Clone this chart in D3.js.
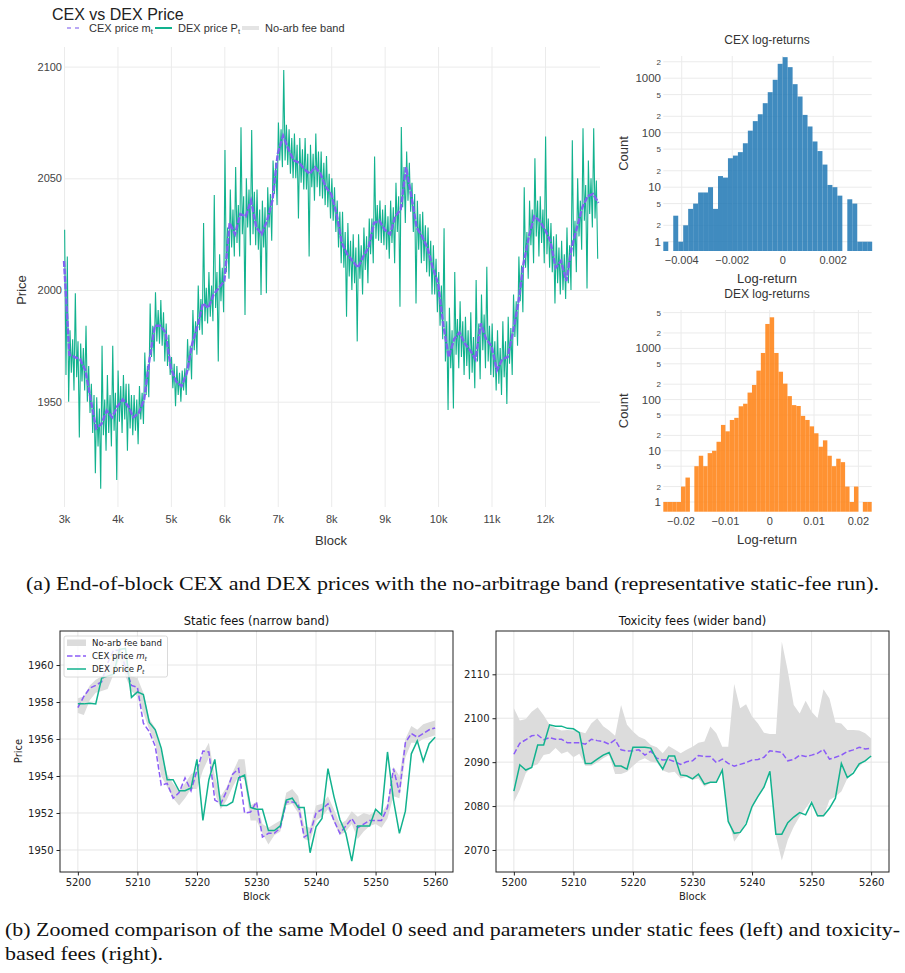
<!DOCTYPE html>
<html>
<head>
<meta charset="utf-8">
<script src="https://cdn.jsdelivr.net/npm/d3@7"></script>
<style>
  body { margin: 0; background: #fff; }
</style>
</head>
<body>
<script>
// ---------- data ----------

// (a) main chart: CEX price every 100 blocks from block 3000
var mainStart = 3000, mainStep = 100;
var mainCex = [2013,1971,1970,1969,1964,1951,1938,1940,1946,1943,
  1948,1951,1948,1943,1945,1951,1969,1984,1984,1981,
  1965,1959,1957,1963,1976,1984,1994,1992,1998,2001,
  2004,2030,2025,2034,2033,2040,2028,2025,2031,2040,
  2061,2069,2063,2058,2057,2054,2052,2055,2052,2046,
  2043,2034,2021,2016,2013,2010,2015,2019,2030,2031,
  2027,2025,2033,2036,2055,2042,2028,2024,2019,2010,
  2003,1984,1970,1978,1981,1976,1973,1969,1985,1978,
  1975,1964,1969,1970,1981,1994,2012,2024,2033,2031,
  2027,2022,2010,2013,2004,2019,2028,2037,2042,2043,2039];
// DEX price inside each 100-block window: outer spikes (high / low)
var dexHigh = [2027,1982,1998.5,1976,1984,1958,1952,1975,1962,1975,
  1964,1962,1958,1953,1957,1972,1994,1999,1995.5,1985,
  1970,1966,1964,1978,1991,2002,2030,2008,2042.5,2016,
  2062.7,2045,2055,2072.8,2050,2071.6,2045,2040,2046,2058,
  2075,2098.5,2072,2070,2068,2068,2065,2070,2062,2060,
  2050,2040,2035,2030,2025,2025,2028,2032,2059.7,2040,
  2038,2040,2048,2073,2062,2048,2040,2035,2028,2020,
  2008,2027.6,1992,2008,1995,1988,1990,2004.5,1998,2010.4,
  1985,1982,1986,1988,1998,2015,2046,2040,2059,2042,
  2068.7,2030,2025,2022,2028,2067,2050,2072.4,2058,2072.4];
var dexLow = [1950,1955,1934,1955,1945,1918,1911,1928,1930,1915,
  1936,1928,1935,1931,1940,1952,1968,1976,1968,1962,
  1948,1950,1953,1960,1971,1980,1985,1986,1968,1990,
  2005,2015,2015,1988.8,2020,2020,1997.8,1998.5,2022,2038,
  2055,2056,2050,2032,2045,2015,2040,2042,2038,2032,
  2026,2012,1988,2000,1977,1998,2003,2012,2022,2020,
  2014,2012,1992.5,2030,2035,1994,2012,2008,1998,1990,
  1978,1946.3,1947,1965,1962,1960,1956,1960,1965,1962,
  1955,1953,1949,1962,1975,1990,2005,2012,2015,2012,
  2010,1994,1998,1996,2000,2008,2018,2000.7,2028,2014];
// DEX price: edges of the dense core inside each 100-block window
var dexCoreHigh = [2015,1978,1977,1974,1966,1953,1947,1951,1953,1954,
  1957,1958,1953,1951,1954,1966,1984,1991,1990,1980,
  1967,1963,1965,1975,1986,1996,2001,2002,2008,2010,
  2028,2036,2038,2042,2045,2044,2036,2037,2043,2057,
  2072,2074,2068,2065,2063,2061,2061,2062,2057,2052,
  2046,2035,2026,2022,2019,2020,2024,2032,2038,2036,
  2033,2037,2042,2055,2057,2043,2034,2029,2022,2014,
  2002,1986,1982,1987,1986,1982,1979,1985,1989,1984,
  1977,1974,1977,1983,1995,2011,2026,2036,2040,2036,
  2032,2024,2019,2016,2020,2031,2040,2047,2050,2049];
var dexCoreLow = [1962,1963,1961,1959,1950,1936,1930,1935,1936,1937,
  1941,1942,1938,1937,1942,1953,1970,1977,1975,1966,
  1956,1953,1955,1964,1973,1982,1986,1988,1992,1995,
  2008,2019,2021,2025,2028,2025,2018,2019,2028,2043,
  2058,2058,2052,2050,2048,2045,2046,2046,2041,2037,
  2031,2019,2010,2006,2003,2005,2009,2016,2023,2021,
  2018,2021,2026,2037,2040,2026,2018,2013,2006,1998,
  1984,1968,1965,1971,1970,1966,1963,1968,1973,1968,
  1961,1958,1961,1967,1979,1995,2010,2020,2024,2021,
  2016,2008,2003,2000,2003,2015,2024,2031,2034,2032];
var mainXTicks = [3000,4000,5000,6000,7000,8000,9000,10000,11000,12000];
var mainYTicks = [1950,2000,2050,2100];

// log-return histograms
var cexBinStart = -0.00473, cexBinWidth = 0.000197;
var cexCounts = [1,0,3,1,2,4,5,8,8,10,4,16,15,34,38,44,64,109,163,218,
  348,554,935,1836,2433,1595,777,461,212,130,69,46,26,11,10,7,0,6,5,1,1,1];
var cexXTicks = [-0.004,-0.002,0,0.002];
var cexYTicks = [1,2,5,10,20,50,100,200,500,1000,2000];

var dexBinStart = -0.024, dexBinWidth = 0.001;
var dexCounts = [1,1,1,1,2,3,0,5,8,5,9,10,15,32,24,40,44,74,83,137,
  193,368,814,3000,4050,814,350,205,117,78,75,48,40,30,22,12,16,8,5,7,
  6,2,1,2,0,1,1];
var dexXTicks = [-0.02,-0.01,0,0.01,0.02];
var dexYTicks = [1,2,5,10,20,50,100,200,500,1000,2000,5000];

// (b) zoomed window, blocks 5200..5260
var zoomStart = 5200;
var staticCex = [1957.7,1958.3,1958.75,1958.9,1959.1,1960.1,1960.8,1960.8,1959.9,1958.9,
  1958.8,1956.85,1956.4,1955.6,1953.5,1953.6,1952.8,1953.1,1953.9,1953.2,
  1954.3,1955.35,1955.3,1952.7,1952.5,1953.2,1954.1,1954.4,1952.0,1952.05,
  1952.6,1950.7,1950.9,1950.9,1951.2,1952.6,1952.6,1952.5,1950.7,1950.9,
  1952.0,1952.2,1952.5,1951.6,1950.9,1951.3,1951.7,1951.2,1951.4,1951.6,
  1951.6,1951.6,1952.3,1954.4,1953.1,1955.8,1956.3,1956.1,1956.3,1956.5,1956.6];
var staticDex = [1957.9,1957.9,1957.93,1957.9,1959.3,1959.4,1959.5,1960.85,1960.9,1958.25,
  1958.55,1958.4,1956.9,1956.5,1955.5,1953.8,1953.8,1953.2,1953.2,1953.35,
  1954.9,1951.6,1953.8,1954.9,1952.4,1952.4,1952.6,1953.9,1954.05,1952.3,
  1952.2,1952.2,1951.05,1951.05,1951.3,1952.7,1952.8,1952.3,1952.3,1949.85,
  1951.25,1951.7,1954.4,1952.9,1951.65,1950.9,1949.4,1951.3,1951.3,1951.3,
  1952.2,1951.9,1955.3,1952.7,1950.9,1952.1,1955.2,1955.9,1954.8,1955.75,1956.1];
var staticBandLo = [1957.4,1957.3,1958.1,1958.5,1958.6,1958.7,1959.5,1960.3,1959.4,1958.6,
  1958.3,1957.4,1956.5,1955.8,1954.0,1953.4,1952.8,1952.4,1952.8,1953.3,
  1953.3,1954.3,1955.0,1953.1,1952.2,1952.7,1953.4,1954.0,1953.8,1951.6,
  1951.6,1950.9,1950.3,1950.8,1951.0,1952.4,1952.5,1952.0,1950.6,1950.5,
  1951.6,1951.8,1952.2,1951.5,1950.8,1951.0,1951.4,1950.6,1951.0,1951.3,
  1951.4,1951.2,1951.7,1952.9,1952.8,1955.0,1955.8,1955.8,1956.0,1956.1,1956.2];
var staticBandHi = [1958.2,1958.3,1958.9,1959.2,1959.4,1959.8,1960.5,1961.0,1960.3,1959.4,
  1959.3,1958.5,1957.1,1956.6,1955.3,1954.1,1953.6,1953.2,1953.6,1954.1,
  1954.3,1955.2,1955.8,1954.0,1952.9,1953.4,1954.2,1954.9,1954.9,1952.4,
  1952.6,1951.4,1951.2,1951.4,1951.6,1953.1,1953.3,1952.9,1951.3,1951.2,
  1952.4,1952.5,1952.9,1952.2,1951.4,1951.6,1952.1,1951.8,1952.0,1951.9,
  1952.1,1952.0,1952.5,1954.5,1954.0,1956.0,1956.7,1956.5,1956.8,1956.9,1957.0];

var toxCex = [2091.8,2094.3,2095.1,2096.0,2096.2,2095.1,2095.6,2095.2,2095.2,2094.4,
  2094.4,2094.4,2094.1,2095.2,2094.9,2094.7,2094.1,2095.1,2092.8,2092.5,
  2092.6,2092.8,2091.6,2092.5,2090.9,2090.5,2090.6,2090.1,2089.5,2090.1,
  2090.3,2091.5,2091.3,2091.3,2089.9,2090.7,2089.7,2089.1,2089.5,2089.9,
  2090.5,2090.6,2091.1,2092.6,2092.4,2092.2,2090.3,2090.6,2091.6,2091.3,
  2091.6,2092.0,2092.9,2090.7,2091.1,2091.6,2092.4,2092.8,2093.4,2093.0,2093.2];
var toxDex = [2083.4,2089.4,2088.2,2088.8,2093.9,2093.9,2098.5,2098.2,2098.2,2097.7,
  2097.6,2096.7,2089.7,2089.7,2090.7,2091.6,2092.2,2089.1,2089.1,2088.4,
  2093.4,2093.4,2093.4,2093.2,2090.5,2088.4,2091.4,2091.4,2087.1,2086.9,
  2086.2,2087.3,2085.0,2085.4,2085.4,2088.2,2076.5,2073.8,2074.0,2075.9,
  2079.9,2082.2,2084.3,2087.9,2073.6,2073.6,2076.2,2077.5,2078.5,2078.0,
  2080.8,2077.8,2077.8,2079.5,2081.8,2089.7,2086.5,2087.5,2089.6,2090.3,2091.4];
var toxBandLo = [2080.9,2083.7,2087.5,2089.0,2089.5,2091.6,2091.9,2093.2,2091.9,2092.4,
  2091.1,2091.9,2089.2,2089.2,2089.9,2090.9,2091.6,2087.3,2087.3,2087.8,
  2089.1,2090.3,2090.9,2090.1,2089.9,2088.1,2087.6,2087.8,2086.3,2086.7,
  2086.0,2086.3,2084.4,2085.3,2085.3,2088.2,2077.2,2071.9,2073.8,2076.5,
  2079.9,2082.2,2084.4,2088.2,2073.2,2067.6,2072.3,2075.3,2077.6,2079.5,
  2081.4,2077.5,2077.6,2081.4,2082.2,2083.3,2086.3,2088.1,2089.0,2090.3,2091.3];
var toxBandHi = [2102.3,2099.5,2099.8,2101.5,2102.5,2100.7,2098.5,2097.7,2097.2,2097.3,
  2097.2,2097.0,2096.6,2098.8,2100.0,2098.2,2097.2,2096.0,2103.0,2098.5,
  2097.0,2095.8,2095.2,2093.9,2093.4,2092.0,2093.7,2092.9,2092.0,2092.8,
  2093.5,2094.4,2094.7,2098.1,2096.6,2093.5,2093.5,2107.8,2102.3,2103.2,
  2100.4,2098.8,2096.7,2096.4,2096.4,2117.4,2110.8,2103.0,2101.1,2104.0,
  2101.5,2100.0,2106.6,2104.5,2099.0,2098.8,2097.3,2097.3,2097.2,2096.6,2095.4];
var zoomXTicks = [5200,5210,5220,5230,5240,5250,5260];
var staticYTicks = [1950,1952,1954,1956,1958,1960];
var toxYTicks = [2070,2080,2090,2100,2110];

// ---------- styling ----------
var cexColor = "#7f62ef", dexColor = "#12b28e", bandColor = "#dcdcdc";
var sansP = "'Liberation Sans', Arial, sans-serif";
var sansM = "'DejaVu Sans', sans-serif";
var serif = "'Liberation Serif', 'DejaVu Serif', serif";

var svg = d3.select("body").append("svg")
    .attr("width", 905)
    .attr("height", 973);
svg.append("rect").attr("width", 905).attr("height", 973).attr("fill", "#fff");

// ================= (a) main price chart =================
var mx = d3.scaleLinear().domain([3000, 13000]).range([64, 598.4]);
var my = d3.scaleLinear().domain([1950, 2100]).range([401.7, 66.6]);
var mainTop = 47, mainBottom = 507, mainLeft = 64, mainRight = 600;

var main = svg.append("g").style("font-family", sansP);

main.append("g")
    .attr("transform", "translate(0," + mainBottom + ")")
    .call(d3.axisBottom(mx).tickValues(mainXTicks).tickSize(-(mainBottom - mainTop))
        .tickPadding(8).tickFormat(d => (d / 1000) + "k"))
    .call(g => g.select(".domain").remove())
    .call(g => g.selectAll("line").attr("stroke", "#ebebeb"))
    .call(g => g.selectAll("text").attr("fill", "#444").attr("font-size", "11px"));

main.append("g")
    .attr("transform", "translate(" + mainLeft + ",0)")
    .call(d3.axisLeft(my).tickValues(mainYTicks).tickSize(-(mainRight - mainLeft))
        .tickPadding(2).tickFormat(d3.format("d")))
    .call(g => g.select(".domain").remove())
    .call(g => g.selectAll("line").attr("stroke", "#ebebeb"))
    .call(g => g.selectAll("text").attr("fill", "#444").attr("font-size", "11px"));

// DEX: four readings per window (spike up, core low, core high, spike down)
var dexPts = [];
dexHigh.forEach(function(h, i) {
    var b = mainStart + i * mainStep;
    dexPts.push([b + 12, h]);
    dexPts.push([b + 37, dexCoreLow[i]]);
    dexPts.push([b + 62, dexCoreHigh[i]]);
    dexPts.push([b + 87, dexLow[i]]);
});
main.append("path")
    .datum(dexPts)
    .attr("d", d3.line().x(d => mx(d[0])).y(d => my(d[1])))
    .attr("fill", "none")
    .attr("stroke", dexColor)
    .attr("stroke-width", 1.1);

main.append("path")
    .datum(mainCex)
    .attr("d", d3.line().x((d, i) => mx(mainStart + i * mainStep)).y(d => my(d)))
    .attr("fill", "none")
    .attr("stroke", cexColor)
    .attr("stroke-width", 2.4)
    .attr("stroke-dasharray", "6,1.5");

main.append("text").attr("x", 52).attr("y", 20)
    .attr("font-size", "16px").attr("fill", "#222").text("CEX vs DEX Price");

main.append("text").attr("transform", "translate(26,290) rotate(-90)")
    .attr("text-anchor", "middle").attr("font-size", "13px").attr("fill", "#333").text("Price");
main.append("text").attr("x", 331).attr("y", 545)
    .attr("text-anchor", "middle").attr("font-size", "13px").attr("fill", "#333").text("Block");

// legend
var leg = main.append("g").attr("font-size", "11px").attr("fill", "#333");
leg.append("line").attr("x1", 67).attr("x2", 83).attr("y1", 28).attr("y2", 28)
    .attr("stroke", "#b9a8f5").attr("stroke-width", 2).attr("stroke-dasharray", "4,4");
var t1 = leg.append("text").attr("x", 89).attr("y", 32).text("CEX price m");
t1.append("tspan").attr("font-size", "7.5px").attr("dy", 2).text("t");
leg.append("line").attr("x1", 155).attr("x2", 172).attr("y1", 28).attr("y2", 28)
    .attr("stroke", dexColor).attr("stroke-width", 2);
var t2 = leg.append("text").attr("x", 178).attr("y", 32).text("DEX price P");
t2.append("tspan").attr("font-size", "7.5px").attr("dy", 2).text("t");
leg.append("line").attr("x1", 242).attr("x2", 259).attr("y1", 28).attr("y2", 28)
    .attr("stroke", "#e4e4e4").attr("stroke-width", 4);
leg.append("text").attr("x", 265).attr("y", 32).text("No-arb fee band");

// ================= histograms =================
function drawHist(cfg) {
    var g = svg.append("g").style("font-family", sansP);
    var x = d3.scaleLinear().domain(cfg.xDomain).range([663.3, 871.7]);
    var y = d3.scaleLog().domain(cfg.yDomain).range([cfg.bottom, cfg.top]);

    g.selectAll(".hg").data(cfg.yTicks).join("line")
        .attr("x1", 663.3).attr("x2", 871.7)
        .attr("y1", d => y(d)).attr("y2", d => y(d))
        .attr("stroke", "#ebebeb");
    g.selectAll(".vg").data(cfg.xTicks).join("line")
        .attr("x1", d => x(d)).attr("x2", d => x(d))
        .attr("y1", cfg.top).attr("y2", cfg.bottom)
        .attr("stroke", "#ebebeb");

    cfg.counts.forEach(function(c, i) {
        if (c <= 0) return;
        var x0 = x(cfg.binStart + i * cfg.binWidth), x1 = x(cfg.binStart + (i + 1) * cfg.binWidth);
        g.append("rect")
            .attr("x", x0).attr("width", x1 - x0)
            .attr("y", y(c)).attr("height", cfg.bottom - y(c))
            .attr("fill", cfg.color).attr("fill-opacity", 0.85);
    });

    var fmt = d3.format("~g");
    g.selectAll(".xt").data(cfg.xTicks).join("text")
        .attr("x", d => x(d)).attr("y", cfg.bottom + 13)
        .attr("text-anchor", "middle").attr("font-size", "11px").attr("fill", "#444")
        .text(d => fmt(d));
    g.selectAll(".yt").data(cfg.yTicks).join("text")
        .attr("x", 661).attr("y", d => y(d))
        .attr("dy", d => Math.log10(d) % 1 === 0 ? 4 : 3)
        .attr("text-anchor", "end")
        .attr("font-size", d => Math.log10(d) % 1 === 0 ? "11.5px" : "8px")
        .attr("fill", "#444")
        .text(d => Math.log10(d) % 1 === 0 ? d : String(d)[0]);

    g.append("text").attr("x", 767).attr("y", cfg.top - 12)
        .attr("text-anchor", "middle").attr("font-size", "12px").attr("fill", "#333").text(cfg.title);
    g.append("text").attr("x", 767).attr("y", cfg.bottom + 32)
        .attr("text-anchor", "middle").attr("font-size", "13px").attr("fill", "#333").text("Log-return");
    g.append("text").attr("transform", "translate(628," + ((cfg.top + cfg.bottom) / 2) + ") rotate(-90)")
        .attr("text-anchor", "middle").attr("font-size", "13px").attr("fill", "#333").text("Count");
}

drawHist({ title: "CEX log-returns", color: "#1f77b4",
    counts: cexCounts, binStart: cexBinStart, binWidth: cexBinWidth,
    xDomain: [-0.00473, 0.003525], yDomain: [0.675, 2554], top: 56, bottom: 251,
    xTicks: cexXTicks, yTicks: cexYTicks });
drawHist({ title: "DEX log-returns", color: "#ff7f0e",
    counts: dexCounts, binStart: dexBinStart, binWidth: dexBinWidth,
    xDomain: [-0.024, 0.023], yDomain: [0.646, 5623], top: 310, bottom: 511.7,
    xTicks: dexXTicks, yTicks: dexYTicks });

// ================= captions =================
svg.append("text").attr("x", 26).attr("y", 590)
    .style("font-family", serif).attr("font-size", "18px").attr("fill", "#111")
    .attr("textLength", 853).attr("lengthAdjust", "spacingAndGlyphs")
    .text("(a) End-of-block CEX and DEX prices with the no-arbitrage band (representative static-fee run).");
svg.append("text").attr("x", 5).attr("y", 936)
    .style("font-family", serif).attr("font-size", "18.5px").attr("fill", "#111")
    .attr("textLength", 895).attr("lengthAdjust", "spacingAndGlyphs")
    .text("(b) Zoomed comparison of the same Model 0 seed and parameters under static fees (left) and toxicity-");
svg.append("text").attr("x", 5).attr("y", 960)
    .style("font-family", serif).attr("font-size", "18.5px").attr("fill", "#111")
    .attr("textLength", 158).attr("lengthAdjust", "spacingAndGlyphs")
    .text("based fees (right).");

// ================= (b) zoomed panels =================
function drawPanel(cfg) {
    var top = 631, bottom = 872;
    var g = svg.append("g").style("font-family", sansM);
    var x = d3.scaleLinear().domain([5197, 5263]).range([cfg.left, cfg.right]);
    var y = d3.scaleLinear().domain(cfg.yDomain).range([bottom, top]);

    g.selectAll(".vg").data(zoomXTicks).join("line")
        .attr("x1", d => x(d)).attr("x2", d => x(d)).attr("y1", top).attr("y2", bottom)
        .attr("stroke", "#e6e6e6");
    g.selectAll(".hg").data(cfg.yTicks).join("line")
        .attr("x1", cfg.left).attr("x2", cfg.right).attr("y1", d => y(d)).attr("y2", d => y(d))
        .attr("stroke", "#e6e6e6");

    var area = d3.area()
        .x((d, i) => x(zoomStart + i))
        .y0((d, i) => y(cfg.lo[i]))
        .y1(d => y(d));
    g.append("path").datum(cfg.hi).attr("d", area).attr("fill", bandColor);

    g.append("path").datum(cfg.cex)
        .attr("d", d3.line().x((d, i) => x(zoomStart + i)).y(d => y(d)))
        .attr("fill", "none").attr("stroke", "#8b5cf6").attr("stroke-width", 1.5)
        .attr("stroke-dasharray", "5.5,2.5");
    g.append("path").datum(cfg.dex)
        .attr("d", d3.line().x((d, i) => x(zoomStart + i)).y(d => y(d)))
        .attr("fill", "none").attr("stroke", dexColor).attr("stroke-width", 1.5);

    g.append("rect").attr("x", cfg.left).attr("y", top)
        .attr("width", cfg.right - cfg.left).attr("height", bottom - top)
        .attr("fill", "none").attr("stroke", "#222").attr("stroke-width", 1);

    g.append("g").attr("transform", "translate(0," + bottom + ")")
        .call(d3.axisBottom(x).tickValues(zoomXTicks).tickSize(3.5).tickPadding(3).tickFormat(d3.format("d")))
        .call(a => a.select(".domain").remove())
        .call(a => a.selectAll("line").attr("stroke", "#222"))
        .call(a => a.selectAll("text").attr("font-size", "10px").attr("fill", "#222").style("font-family", sansM));
    g.append("g").attr("transform", "translate(" + cfg.left + ",0)")
        .call(d3.axisLeft(y).tickValues(cfg.yTicks).tickSize(3.5).tickPadding(3).tickFormat(d3.format("d")))
        .call(a => a.select(".domain").remove())
        .call(a => a.selectAll("line").attr("stroke", "#222"))
        .call(a => a.selectAll("text").attr("font-size", "10px").attr("fill", "#222").style("font-family", sansM));

    g.append("text").attr("x", (cfg.left + cfg.right) / 2).attr("y", 625)
        .attr("text-anchor", "middle").attr("font-size", "11.5px").attr("fill", "#111").text(cfg.title);
    g.append("text").attr("x", (cfg.left + cfg.right) / 2).attr("y", 900)
        .attr("text-anchor", "middle").attr("font-size", "10px").attr("fill", "#222").text("Block");
    return g;
}

var left = drawPanel({ left: 60, right: 453, yDomain: [1948.81, 1961.84], yTicks: staticYTicks,
    title: "Static fees (narrow band)", cex: staticCex, dex: staticDex, lo: staticBandLo, hi: staticBandHi });
drawPanel({ left: 496, right: 889, yDomain: [2064.99, 2119.86], yTicks: toxYTicks,
    title: "Toxicity fees (wider band)", cex: toxCex, dex: toxDex, lo: toxBandLo, hi: toxBandHi });

left.append("text").attr("transform", "translate(22,751) rotate(-90)")
    .attr("text-anchor", "middle").attr("font-size", "10px").attr("fill", "#222").text("Price");

// legend of the static panel
var lg = left.append("g").attr("font-size", "8.6px").attr("fill", "#222");
lg.append("rect").attr("x", 64).attr("y", 636).attr("width", 103.5).attr("height", 41).attr("rx", 2)
    .attr("fill", "#fff").attr("fill-opacity", 0.8).attr("stroke", "#d0d0d0").attr("stroke-width", 0.8);
lg.append("rect").attr("x", 67).attr("y", 639.5).attr("width", 19).attr("height", 6.5).attr("fill", bandColor);
lg.append("text").attr("x", 92).attr("y", 646).text("No-arb fee band");
lg.append("line").attr("x1", 67).attr("x2", 86).attr("y1", 656).attr("y2", 656)
    .attr("stroke", "#8b5cf6").attr("stroke-width", 1.5).attr("stroke-dasharray", "5.5,2.5");
var l2 = lg.append("text").attr("x", 92).attr("y", 659.3).text("CEX price ");
l2.append("tspan").attr("font-style", "italic").text("m");
l2.append("tspan").attr("font-style", "italic").attr("font-size", "6px").attr("dy", 1.5).text("t");
lg.append("line").attr("x1", 67).attr("x2", 86).attr("y1", 669).attr("y2", 669)
    .attr("stroke", dexColor).attr("stroke-width", 1.5);
var l3 = lg.append("text").attr("x", 92).attr("y", 672.3).text("DEX price ");
l3.append("tspan").attr("font-style", "italic").text("P");
l3.append("tspan").attr("font-style", "italic").attr("font-size", "6px").attr("dy", 1.5).text("t");
</script>
</body>
</html>
